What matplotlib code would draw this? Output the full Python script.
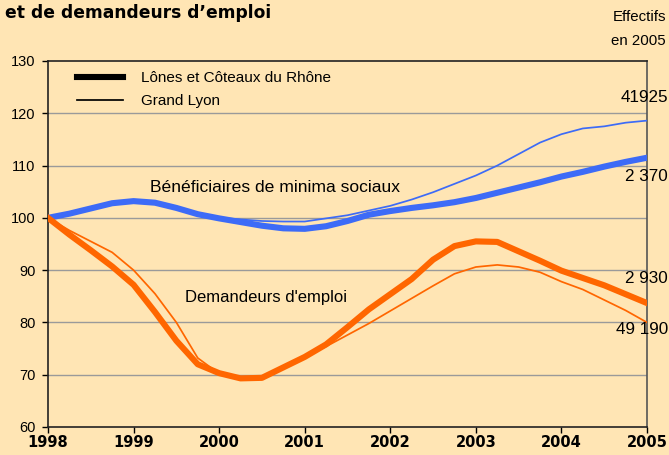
import matplotlib
matplotlib.use("Agg")
import matplotlib.pyplot as plt
from matplotlib.lines import Line2D

# Quarterly points 1998.00 .. 2005.00
years = [1998 + q / 4 for q in range(29)]

benef_lcr = [100.0, 100.8, 101.8, 102.8, 103.2, 102.9, 101.9, 100.7,
             99.9, 99.2, 98.5, 98.0, 97.9, 98.4, 99.4, 100.6,
             101.3, 101.9, 102.4, 103.0, 103.8, 104.8, 105.8, 106.8,
             107.9, 108.8, 109.8, 110.7, 111.5]
benef_gl = [100.0, 101.0, 102.0, 103.0, 103.4, 103.1, 102.0, 100.8,
            100.0, 99.7, 99.4, 99.3, 99.3, 99.9, 100.5, 101.4,
            102.3, 103.5, 104.9, 106.5, 108.1, 110.0, 112.2, 114.4,
            116.0, 117.1, 117.5, 118.2, 118.6]
dem_lcr = [100.0, 96.8, 93.8, 90.7, 87.2, 82.0, 76.5, 72.0,
           70.3, 69.3, 69.4, 71.4, 73.4, 75.8, 79.1, 82.5,
           85.4, 88.3, 92.0, 94.6, 95.5, 95.4, 93.6, 91.8,
           89.9, 88.5, 87.1, 85.4, 83.7]
dem_gl = [100.0, 97.6, 95.5, 93.4, 90.0, 85.5, 80.0, 73.2,
          70.2, 69.4, 69.6, 71.5, 73.4, 75.4, 77.6, 79.8,
          82.2, 84.6, 87.0, 89.3, 90.6, 91.0, 90.6, 89.6,
          87.8, 86.3, 84.3, 82.3, 80.0]

xtick_years = [1998, 1999, 2000, 2001, 2002, 2003, 2004, 2005]
yticks = [60, 70, 80, 90, 100, 110, 120, 130]

end_labels = ["41925", "2 370", "2 930", "49 190"]
end_label_y = [123.0, 108.0, 88.4, 78.7]

series_names = ["Lônes et Côteaux du Rhône", "Grand Lyon"]
title = "et de demandeurs d\u2019emploi"

BG = "#FFE5B4"
BLUE = "#3D6BF7"
ORANGE = "#FF6600"
THICK = 4.4
THIN = 1.25

plt.rcParams['font.family'] = ['Liberation Sans', 'DejaVu Sans']

fig = plt.figure(figsize=(6.69, 4.55), dpi=100, facecolor=BG)
ax = fig.add_axes([48 / 669, 28 / 455, 599 / 669, 366 / 455], facecolor=BG)

for y in [70, 80, 90, 100, 110, 120]:
    ax.axhline(y, color="#9A9A9A", lw=1.0, zorder=1)

ax.plot(years, benef_gl, color=BLUE, lw=THIN, zorder=3)
ax.plot(years, benef_lcr, color=BLUE, lw=THICK, zorder=4)
ax.plot(years, dem_gl, color=ORANGE, lw=THIN, zorder=3)
ax.plot(years, dem_lcr, color=ORANGE, lw=THICK, zorder=4)

ax.set_xlim(1998, 2005)
ax.set_ylim(60, 130)
ax.set_yticks(yticks)
ax.set_yticklabels([str(v) for v in yticks], fontsize=10.5)
ax.set_xticks(xtick_years)
ax.set_xticklabels([str(v) for v in xtick_years], fontsize=10.5,
                   fontweight='bold', family=['DejaVu Sans'])
ax.tick_params(axis='y', length=4, width=1, pad=5, direction='out')
ax.tick_params(axis='x', length=4, width=1, pad=2, direction='out')
for s in ax.spines.values():
    s.set_color("#222222")
    s.set_linewidth(1.2)
ax.spines['right'].set_color("#555555")

handles = [Line2D([0], [0], color='black', lw=THICK),
           Line2D([0], [0], color='black', lw=THIN)]
ax.legend(handles, series_names, loc='upper left',
          bbox_to_anchor=(0.025, 1.01), frameon=False, fontsize=11,
          handlelength=3.0, handletextpad=1.2, labelspacing=0.6)

ax.text(2000.65, 105.9, "Bénéficiaires de minima sociaux", fontsize=12.6,
        ha='center', va='center', zorder=5)
ax.text(2000.55, 84.7, "Demandeurs d'emploi", fontsize=12,
        ha='center', va='center', zorder=5)

for lab, yv in zip(end_labels, end_label_y):
    ax.text(1.0 + 21 / 599, yv, lab, transform=ax.get_yaxis_transform(),
            fontsize=12.3, ha='right', va='center', clip_on=False, zorder=6)

fig.text(666 / 669, 1 - 17 / 455, "Effectifs", fontsize=10.8, ha='right', va='center')
fig.text(666 / 669, 1 - 41 / 455, "en 2005", fontsize=10.8, ha='right', va='center')
fig.text(5 / 669, 1 - 13 / 455, title, fontsize=12.3, fontweight='bold',
         family=['DejaVu Sans'], ha='left', va='center')

fig.savefig("out.png", dpi=100, facecolor=BG)
